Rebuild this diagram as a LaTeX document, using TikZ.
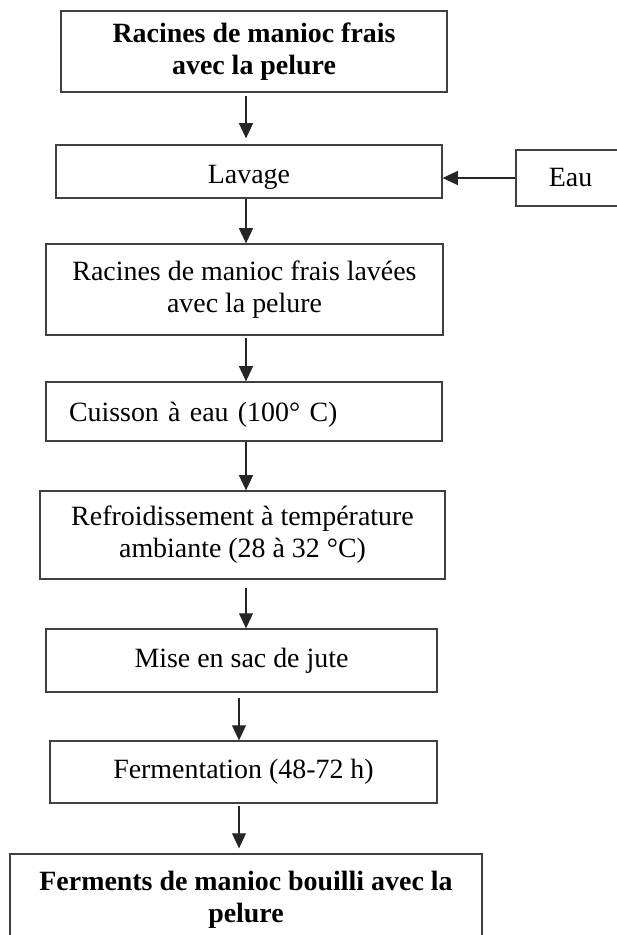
\documentclass[tikz,border=0pt]{standalone}
\usepackage{fontspec}
\setmainfont{Liberation Serif}
\usetikzlibrary{arrows.meta}

\newcommand{\px}{0.43pt}
\tikzset{x=0.43pt, y=-0.43pt,
    every node/.append style={font=\fontsize{12}{13.8}\selectfont},
    boite/.style={draw=black!75, line width=0.55pt, inner sep=0pt, align=center},
    fleche/.style={draw=black!85, line width=0.55pt, -{Triangle[length=6.5pt,width=6pt]}}}

\begin{document}
\begin{tikzpicture}
    \useasboundingbox (0,0) rectangle (616,935);
    \coordinate (axe) at (246,0);
    \coordinate (axebas) at (239,0);

    \node[boite, font=\fontsize{12}{13.8}\selectfont\bfseries,
          minimum width=386*\px, minimum height=81*\px] (racines) at (254,51.5)
        {Racines de manioc frais\\avec la pelure};
    \node[boite, minimum width=386*\px, minimum height=53*\px] (lavage) at (249,171.5)
        {\raisebox{-2.6pt}[\height][\depth]{Lavage}};
    \node[boite, minimum width=109*\px, minimum height=56*\px] (eau) at (570.5,178) {Eau};
    \node[boite, minimum width=397*\px, minimum height=91*\px] (lavees) at (244.5,289.5)
        {Racines de manioc frais lavées\\avec la pelure};
    \node[boite, align=left, inner xsep=23*\px, text width=350*\px,
          minimum width=396*\px, minimum height=59*\px] (cuisson) at (244,411.5)
        {\raisebox{-1.2pt}[\height][\depth]{Cuisson à eau (100° C)}};
    \node[boite, minimum width=405*\px, minimum height=88*\px] (refroid) at (242.5,535)
        {Refroidissement à température\\ambiante (28 à 32 °C)};
    \node[boite, minimum width=391*\px, minimum height=63*\px] (sac) at (241.5,660.5)
        {Mise en sac de jute};
    \node[boite, minimum width=387*\px, minimum height=62*\px] (ferment) at (243.5,772)
        {Fermentation (48-72 h)};
    \node[boite, font=\fontsize{12}{13.8}\selectfont\bfseries,
          minimum width=472*\px, minimum height=92*\px] (ferments) at (246,900)
        {Ferments de manioc bouilli avec la\\pelure};

    % fleches
    \draw[fleche, shorten <=3*\px, shorten >=6*\px] (racines.south -| axe) -- (lavage.north -| axe);
    \draw[fleche] (eau.west) -- (eau.west -| lavage.east);
    \draw[fleche] (lavage.south -| axe) -- (lavees.north -| axe);
    \draw[fleche, shorten <=2*\px] (lavees.south -| axe) -- (cuisson.north -| axe);
    \draw[fleche] (cuisson.south -| axe) -- (refroid.north -| axe);
    \draw[fleche, shorten <=8*\px] (refroid.south -| axe) -- (sac.north -| axe);
    \draw[fleche, shorten <=5*\px] (sac.south -| axebas) -- (ferment.north -| axebas);
    \draw[fleche, shorten <=2*\px, shorten >=5*\px] (ferment.south -| axebas) -- (ferments.north -| axebas);
\end{tikzpicture}
\end{document}
